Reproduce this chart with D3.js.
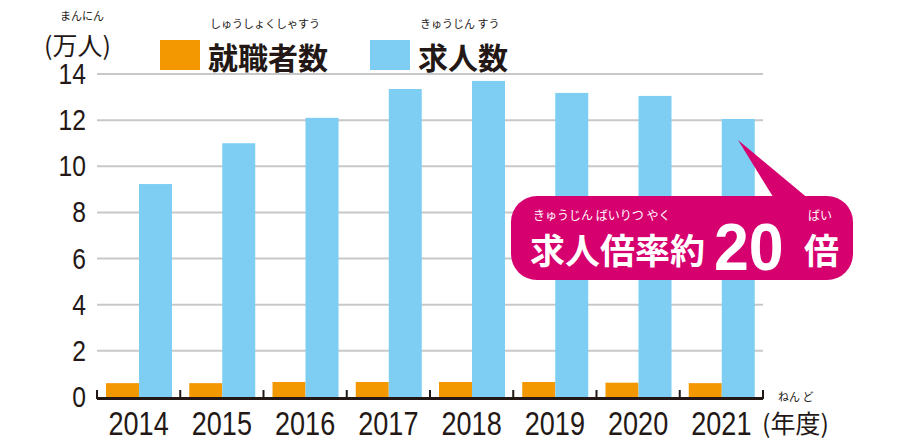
<!DOCTYPE html>
<html><head><meta charset="utf-8">
<script src="https://cdn.jsdelivr.net/npm/d3@7"></script>
<style>body{margin:0;background:#fff}svg{display:block}</style>
</head><body><div id="chart"></div>
<script>
const years = ['2014','2015','2016','2017','2018','2019','2020','2021']
const employed = [0.6, 0.6, 0.65, 0.65, 0.65, 0.65, 0.62, 0.6]
const openings = [9.23, 11.0, 12.1, 13.35, 13.7, 13.18, 13.05, 12.05]
const yTicks = [0, 2, 4, 6, 8, 10, 12, 14]

const W = 900, H = 440
const jp = "'Noto Sans CJK JP', sans-serif"
const num = "'Liberation Sans', sans-serif"
const svg = d3.select('#chart').append('svg').attr('width', W).attr('height', H)

const x = d3.scaleBand().domain(years).range([97, 763])
const y = d3.scaleLinear().domain([0, 14]).range([397, 74])

// grid
svg.append('g').selectAll('line').data(yTicks.slice(1)).join('line')
  .attr('x1', 97).attr('x2', 763).attr('y1', d => y(d)).attr('y2', d => y(d))
  .attr('stroke', '#c8c8c8').attr('stroke-width', 2)

// y labels (condensed numerals)
svg.append('g').selectAll('text').data(yTicks).join('text')
  .attr('text-anchor', 'end')
  .attr('transform', d => `translate(86,${y(d) + 10}) scale(0.85,1)`)
  .attr('font-family', num).attr('font-size', 29).attr('fill', '#231815').text(d => d)

// bars
const bw = 33
svg.append('g').selectAll('rect').data(years).join('rect')
  .attr('x', d => x(d) + 9).attr('width', bw)
  .attr('y', (d, i) => y(employed[i])).attr('height', (d, i) => y(0) - y(employed[i]))
  .attr('fill', '#f39800')
svg.append('g').selectAll('rect').data(years).join('rect')
  .attr('x', d => x(d) + 9 + bw).attr('width', bw)
  .attr('y', (d, i) => y(openings[i])).attr('height', (d, i) => y(0) - y(openings[i]))
  .attr('fill', '#7ecef4')

// x axis
const ax = svg.append('g').attr('stroke', '#231815')
ax.append('line').attr('x1', 97).attr('x2', 763).attr('y1', y(0) + 1.5).attr('y2', y(0) + 1.5).attr('stroke-width', 3)
ax.selectAll('.t').data(d3.range(years.length + 1)).join('line')
  .attr('x1', i => 97 + i * x.bandwidth()).attr('x2', i => 97 + i * x.bandwidth())
  .attr('y1', y(0) - 7).attr('y2', y(0) + 2).attr('stroke-width', 2)
svg.append('g').selectAll('text').data(years).join('text')
  .attr('text-anchor', 'middle')
  .attr('transform', d => `translate(${x(d) + x.bandwidth() / 2},435) scale(0.82,1)`)
  .attr('font-family', num).attr('font-size', 33).attr('fill', '#231815').text(d => d)
svg.append('text').attr('x', 762).attr('y', 433).attr('font-family', jp).attr('font-size', 25)
  .attr('fill', '#231815').text('(年度)')
svg.append('text').attr('x', 778).attr('y', 401).attr('font-family', jp).attr('font-size', 11)
  .attr('fill', '#231815').text('ねん ど')

// unit
svg.append('text').attr('x', 60).attr('y', 20).attr('font-family', jp).attr('font-size', 11)
  .attr('fill', '#231815').text('まんにん')
svg.append('text').attr('x', 44).attr('y', 55).attr('font-family', jp).attr('font-size', 25)
  .attr('fill', '#231815').text('(万人)')

// legend
const legend = [
  {label: '就職者数', ruby: 'しゅうしょくしゃすう', color: '#f39800', x: 160},
  {label: '求人数', ruby: 'きゅうじん すう', color: '#7ecef4', x: 370}
]
legend.forEach(l => {
  svg.append('rect').attr('x', l.x).attr('y', 40).attr('width', 40).attr('height', 30).attr('fill', l.color)
  svg.append('text').attr('x', l.x + 48).attr('y', 69).attr('font-family', jp).attr('font-weight', 700)
    .attr('font-size', 30).attr('fill', '#231815').text(l.label)
  svg.append('text').attr('x', l.x + 50).attr('y', 28).attr('font-family', jp).attr('font-size', 11)
    .attr('fill', '#231815').text(l.ruby)
})

// callout
const c = svg.append('g')
c.append('path').attr('d', 'M738,140 L810,200 L775,200 Z').attr('fill', '#d6006f')
c.append('rect').attr('x', 511).attr('y', 196).attr('width', 342).attr('height', 84).attr('rx', 26).attr('fill', '#d6006f')
c.append('text').attr('x', 530).attr('y', 264).attr('font-family', jp).attr('font-weight', 700)
  .attr('font-size', 35).attr('fill', '#fff').text('求人倍率約')
c.append('text').attr('transform', 'translate(714,270) scale(0.95,1)').attr('font-family', num).attr('font-weight', 700)
  .attr('font-size', 66).attr('fill', '#fff').text('20')
c.append('text').attr('x', 804).attr('y', 264).attr('font-family', jp).attr('font-weight', 700)
  .attr('font-size', 35).attr('fill', '#fff').text('倍')
c.append('text').attr('x', 533).attr('y', 220).attr('font-family', jp).attr('font-size', 12)
  .attr('fill', '#fff').text('きゅうじん ばいりつ やく')
c.append('text').attr('x', 808).attr('y', 220).attr('font-family', jp).attr('font-size', 12)
  .attr('fill', '#fff').text('ばい')
</script></body></html>
